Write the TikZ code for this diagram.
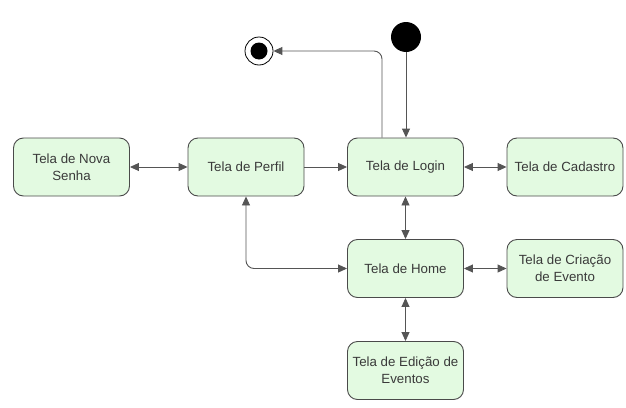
\documentclass[tikz,border=0pt]{standalone}
\usepackage{fontspec}
\setmainfont{Liberation Sans}
\usetikzlibrary{arrows.meta}
\definecolor{boxfill}{HTML}{E3FAE1}
\definecolor{boxline}{HTML}{4A4A4A}
\definecolor{txt}{HTML}{3A3A3A}
\definecolor{wire}{HTML}{555555}
\begin{document}
\begin{tikzpicture}[x=1pt,y=-1pt,
  state/.style={draw=boxline,fill=boxfill,rounded corners=10pt,line width=0.9pt,
    minimum width=116pt,minimum height=58pt,align=center,text=txt,
    font=\fontsize{13.3}{17}\selectfont,inner sep=2pt},
  conn/.style={draw=wire,line width=0.9pt},
  tip/.style={-{Triangle[length=9pt,width=8pt]}},
  both/.style={{Triangle[length=9pt,width=8pt]}-{Triangle[length=9pt,width=8pt]}}]
\useasboundingbox (0,0) rectangle (626,407);
\node[state] (nova) at (71.5,167) {Tela de Nova\\Senha};
\node[state] (perfil) at (246,167) {Tela de Perfil};
\node[state] (login) at (405.5,167) {Tela de Login};
\node[state] (cad) at (565,167) {Tela de Cadastro};
\node[state] (home) at (405.5,268.5) {Tela de Home};
\node[state] (cria) at (565,268.5) {Tela de Criação\\de Evento};
\node[state] (edit) at (405.5,370.5) {Tela de Edição de\\Eventos};
\node[circle,fill=black,minimum size=30pt,inner sep=0pt] (ini) at (406,37) {};
\node[circle,draw=black,line width=0.8pt,fill=white,minimum size=28pt,inner sep=0pt] (fin) at (259,51) {};
\node[circle,fill=black,minimum size=17pt,inner sep=0pt] (fincore) at (259,51) {};
\coordinate (tl) at (382,51);
\draw[conn,tip] (ini) -- (ini |- login.north);
\draw[conn,tip,rounded corners=8pt] (login.north -| tl) -- (tl) -- (fin);
\draw[conn,both] (nova) -- (perfil);
\draw[conn,tip] (perfil) -- (login);
\draw[conn,both] (login) -- (cad);
\draw[conn,both] (login) -- (home);
\draw[conn,both] (home) -- (cria);
\draw[conn,both] (home) -- (edit);
\draw[conn,both,rounded corners=8pt] (home.west) -- (home.west -| perfil.south) -- (perfil.south);
\end{tikzpicture}
\end{document}
